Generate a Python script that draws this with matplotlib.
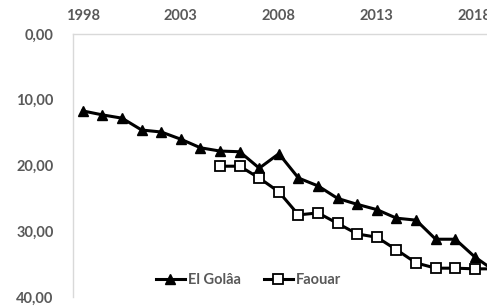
import matplotlib
matplotlib.use("Agg")
import matplotlib.pyplot as plt

years_golaa = list(range(1998, 2020))
golaa = [11.7, 12.3, 12.8, 14.6, 14.9, 16.0, 17.3, 17.8, 17.9, 20.4, 18.2,
         21.9, 23.1, 25.0, 25.9, 26.7, 28.0, 28.3, 31.2, 31.2, 33.9, 36.0]
years_faouar = list(range(2005, 2020))
faouar = [20.1, 20.1, 21.9, 24.0, 27.5, 27.2, 28.8, 30.4, 30.9, 32.8,
          34.8, 35.6, 35.6, 35.7, 35.7]
xticks = [1998, 2003, 2008, 2013, 2018]
yticks = [0, 10, 20, 30, 40]

plt.rcParams['font.family'] = ['Lato', 'DejaVu Sans']
fig = plt.figure(figsize=(4.87, 3.06), dpi=100)
ax = fig.add_axes([0.150, 0.029, 0.8855, 0.860])

ax.plot(years_golaa, golaa, color='black', lw=2.2, marker='^', ms=7,
        mfc='black', mec='black', label='El Golâa')
ax.plot(years_faouar, faouar, color='black', lw=2.2, marker='s', ms=7.5,
        mfc='white', mec='black', mew=1.3, label='Faouar')

ax.set_xlim(1997.5, 2019.5)
ax.set_ylim(40, 0)
ax.set_xticks(xticks)
ax.set_yticks(yticks)
ax.set_yticklabels([f"{v:.2f}".replace('.', ',') for v in yticks])
ax.xaxis.tick_top()
ax.tick_params(axis='x', length=0, pad=8, labelsize=10.5, labelcolor='#595959')
ax.tick_params(axis='y', length=0, pad=14, labelsize=10.5, labelcolor='#595959')
for lab in ax.get_xticklabels() + ax.get_yticklabels():
    lab.set_fontweight('bold')
for s in ['right', 'bottom']:
    ax.spines[s].set_visible(False)
for s in ['top', 'left']:
    ax.spines[s].set_color('#d9d9d9')
    ax.spines[s].set_linewidth(1.0)

leg = fig.legend(loc='center', bbox_to_anchor=(0.510, 0.085), ncol=2,
                 frameon=False, prop={'weight': 'bold', 'size': 10.5},
                 handlelength=2.0, columnspacing=1.6, handletextpad=0.2)
for t in leg.get_texts():
    t.set_color('#595959')

fig.savefig('out.png', dpi=100)
